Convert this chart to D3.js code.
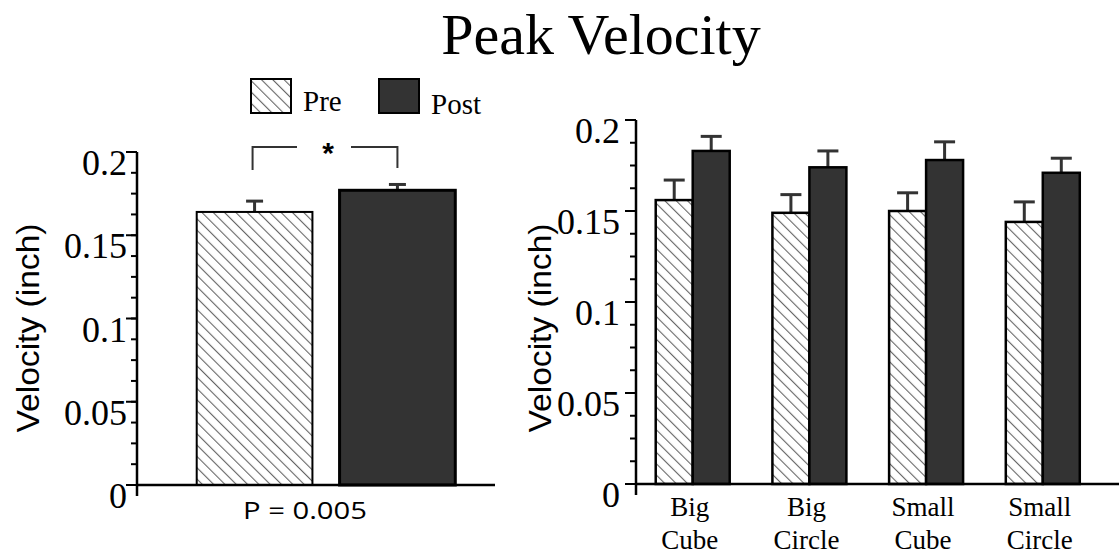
<!DOCTYPE html>
<html>
<head>
<meta charset="utf-8">
<script src="https://cdn.jsdelivr.net/npm/d3@7"></script>
<style>
  body { margin: 0; background: #fff; }
  svg { display: block; }
</style>
</head>
<body>
<svg id="chart" width="1119" height="555"></svg>
<script>
// values
let phases = ['Pre', 'Post']
let overallMean = [0.164, 0.177]
let overallSE = [0.0065, 0.0035]

let objects = ['Big Cube', 'Big Circle', 'Small Cube', 'Small Circle']
let preMean = [0.156, 0.149, 0.150, 0.144]
let preSE = [0.011, 0.010, 0.010, 0.011]
let postMean = [0.183, 0.174, 0.178, 0.171]
let postSE = [0.008, 0.009, 0.010, 0.008]

let yTicks = [0, 0.05, 0.1, 0.15, 0.2]
let yTickLabels = ['0', '0.05', '0.1', '0.15', '0.2']
let yMinorTicks = d3.range(0, 16).map(i => i * 0.0125).filter(v => v <= 0.2)

function main() {
    let svg = d3.select('#chart')
    let serif = 'Liberation Serif, Times New Roman, serif'
    let sans = 'Liberation Sans, Arial, sans-serif'

    // hatch pattern for "Pre"
    let defs = svg.append('defs')
    defs.append('pattern')
        .attr('id', 'hatch')
        .attr('patternUnits', 'userSpaceOnUse')
        .attr('width', 8)
        .attr('height', 8)
        .attr('patternTransform', 'rotate(-45)')
        .call(p => {
            p.append('rect').attr('width', 8).attr('height', 8).attr('fill', '#fff')
            p.append('line').attr('x1', 0).attr('y1', 0).attr('x2', 0).attr('y2', 8)
                .attr('stroke', '#666').attr('stroke-width', 2.2)
        })

    let fillFor = ph => ph === 'Pre' ? 'url(#hatch)' : '#333'
    let strokeW = ph => ph === 'Pre' ? 2 : 3

    // title
    svg.append('text')
        .attr('x', 601).attr('y', 54)
        .attr('text-anchor', 'middle')
        .attr('font-family', serif)
        .attr('font-size', 58)
        .text('Peak Velocity')

    // legend
    let legendX = [251, 379]
    let legendTextY = [111, 114]
    let legend = svg.append('g')
    phases.forEach((ph, i) => {
        legend.append('rect')
            .attr('x', legendX[i]).attr('y', 79)
            .attr('width', 40).attr('height', 34)
            .attr('fill', fillFor(ph))
            .attr('stroke', '#000').attr('stroke-width', 2)
        legend.append('text')
            .attr('x', legendX[i] + 52).attr('y', legendTextY[i])
            .attr('font-family', serif).attr('font-size', 29)
            .text(ph)
    })

    function drawYAxis(x, yScale, tickRight) {
        let g = svg.append('g')
        g.append('line')
            .attr('x1', x).attr('x2', x)
            .attr('y1', yScale(0.2)).attr('y2', yScale(0) + 11)
            .attr('stroke', '#000').attr('stroke-width', 2.5)
        g.selectAll('.minor')
            .data(yMinorTicks)
            .enter()
            .append('line')
            .attr('x1', x - 6).attr('x2', x)
            .attr('y1', d => yScale(d)).attr('y2', d => yScale(d))
            .attr('stroke', '#000').attr('stroke-width', 2)
        g.selectAll('.major')
            .data(yTicks)
            .enter()
            .append('line')
            .attr('x1', x - 11).attr('x2', x)
            .attr('y1', d => yScale(d)).attr('y2', d => yScale(d))
            .attr('stroke', '#000').attr('stroke-width', 2)
        g.selectAll('.lab')
            .data(yTicks)
            .enter()
            .append('text')
            .attr('x', x - tickRight)
            .attr('y', d => yScale(d) + 23)
            .attr('text-anchor', 'end')
            .attr('font-family', serif)
            .attr('font-size', 36)
            .text((d, i) => yTickLabels[i])
    }

    function yTitle(cx, cy) {
        svg.append('text')
            .attr('transform', 'translate(' + cx + ',' + cy + ') rotate(-90)')
            .attr('text-anchor', 'middle')
            .attr('dy', '0.35em')
            .attr('font-family', sans)
            .attr('font-size', 32)
            .attr('textLength', 209)
            .attr('lengthAdjust', 'spacingAndGlyphs')
            .text('Velocity (inch)')
    }

    function errorBar(g, cx, top, cap) {
        g.append('line')
            .attr('x1', cx).attr('x2', cx)
            .attr('y1', top.bar).attr('y2', top.err)
            .attr('stroke', '#333').attr('stroke-width', 3)
        g.append('line')
            .attr('x1', cx - cap / 2).attr('x2', cx + cap / 2)
            .attr('y1', top.err).attr('y2', top.err)
            .attr('stroke', '#333').attr('stroke-width', 3)
    }

    // ---- left panel: overall pre vs post ----
    let axL = 137
    let yL = d3.scaleLinear().domain([0, 0.2]).range([485, 152])
    let xL = d3.scaleBand().domain(phases).range([161, 491]).paddingInner(0.19).paddingOuter(0.25)

    let left = svg.append('g')
    phases.forEach((ph, i) => {
        errorBar(left, xL(ph) + xL.bandwidth() / 2,
            {bar: yL(overallMean[i]), err: yL(overallMean[i] + overallSE[i])}, 17)
    })
    left.selectAll('rect')
        .data(phases)
        .enter()
        .append('rect')
        .attr('x', ph => xL(ph))
        .attr('y', (ph, i) => yL(overallMean[i]))
        .attr('width', xL.bandwidth())
        .attr('height', (ph, i) => yL(0) - yL(overallMean[i]))
        .attr('fill', fillFor)
        .attr('stroke', '#000')
        .attr('stroke-width', strokeW)

    left.append('line')
        .attr('x1', axL).attr('x2', 495)
        .attr('y1', yL(0)).attr('y2', yL(0))
        .attr('stroke', '#000').attr('stroke-width', 2.5)
    drawYAxis(axL, yL, 10)
    yTitle(28, 328)

    // significance bracket
    let cPre = xL('Pre') + xL.bandwidth() / 2 - 2, cPost = xL('Post') + xL.bandwidth() / 2
    let brTop = 147
    left.append('path')
        .attr('d', 'M' + cPre + ',170 V' + brTop + ' H297 M351,' + brTop + ' H' + cPost + ' V168')
        .attr('fill', 'none').attr('stroke', '#333').attr('stroke-width', 2)
    left.append('text')
        .attr('x', 328).attr('y', 163)
        .attr('text-anchor', 'middle')
        .attr('font-family', sans).attr('font-weight', 'bold')
        .attr('font-size', 30)
        .text('*')
    left.append('text')
        .attr('x', 305).attr('y', 519)
        .attr('text-anchor', 'middle')
        .attr('font-family', 'Open Sans, sans-serif')
        .attr('font-size', 24)
        .attr('textLength', 124)
        .attr('lengthAdjust', 'spacingAndGlyphs')
        .text('P = 0.005')

    // ---- right panel: by object ----
    let axR = 636
    let yR = d3.scaleLinear().domain([0, 0.2]).range([484, 120])
    let x0 = d3.scaleBand().domain(objects).range([636, 1099.5]).paddingInner(0.366).paddingOuter(0.169)
    let x1 = d3.scaleBand().domain(phases).range([0, x0.bandwidth()])

    let rows = objects.map((o, i) => ({
        object: o,
        vals: [
            {phase: 'Pre', mean: preMean[i], se: preSE[i]},
            {phase: 'Post', mean: postMean[i], se: postSE[i]}
        ]
    }))

    let right = svg.append('g')
    let groups = right.selectAll('.grp')
        .data(rows)
        .enter()
        .append('g')
        .attr('transform', d => 'translate(' + x0(d.object) + ',0)')

    groups.each(function (d) {
        let g = d3.select(this)
        d.vals.forEach(v => {
            errorBar(g, x1(v.phase) + x1.bandwidth() / 2,
                {bar: yR(v.mean), err: yR(v.mean + v.se)}, 21)
        })
    })
    groups.selectAll('rect')
        .data(d => d.vals)
        .enter()
        .append('rect')
        .attr('x', v => x1(v.phase))
        .attr('y', v => yR(v.mean))
        .attr('width', x1.bandwidth())
        .attr('height', v => yR(0) - yR(v.mean))
        .attr('fill', v => fillFor(v.phase))
        .attr('stroke', '#000')
        .attr('stroke-width', 2.5)

    right.append('line')
        .attr('x1', axR).attr('x2', 1119)
        .attr('y1', yR(0)).attr('y2', yR(0))
        .attr('stroke', '#000').attr('stroke-width', 2.5)
    drawYAxis(axR, yR, 16)
    yTitle(540, 328)

    right.selectAll('.cat')
        .data(objects)
        .enter()
        .append('text')
        .attr('text-anchor', 'middle')
        .attr('font-family', serif)
        .attr('font-size', 27)
        .each(function (d) {
            let t = d3.select(this)
            let cx = x0(d) + x0.bandwidth() / 2 - 3
            d.split(' ').forEach((w, i) => {
                t.append('tspan').attr('x', cx).attr('y', 516 + i * 33).text(w)
            })
        })
}

main()
</script>
</body>
</html>
